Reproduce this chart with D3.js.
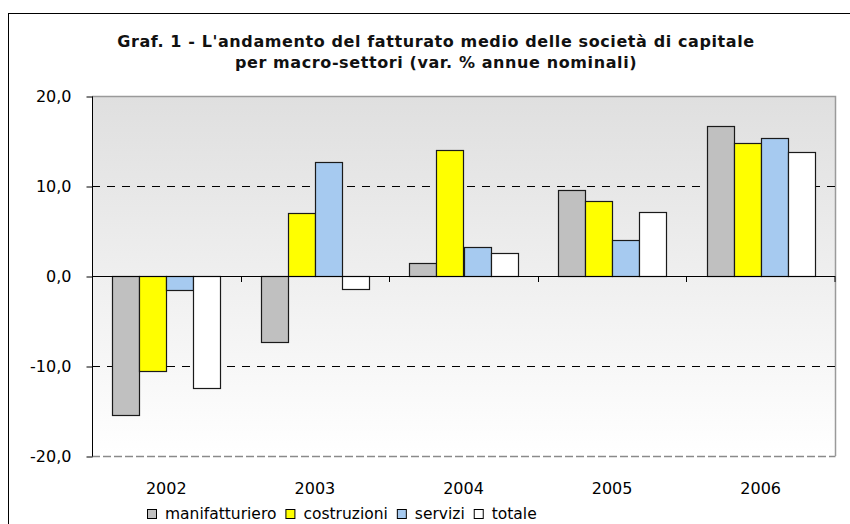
<!DOCTYPE html>
<html>
<head>
<meta charset="utf-8">
<script src="https://cdn.jsdelivr.net/npm/d3@7"></script>
<style>
  body { margin: 0; background: #fff; }
  svg { display: block; }
</style>
</head>
<body>
<div id="chart"></div>
<script>
// dati
var anni = ["2002", "2003", "2004", "2005", "2006"];
var settori = ["manifatturiero", "costruzioni", "servizi", "totale"];
var manifatturiero = [-15.4, -7.3, 1.5, 9.6, 16.7];
var costruzioni = [-10.5, 7.0, 14.0, 8.3, 14.8];
var servizi = [-1.5, 12.7, 3.2, 4.0, 15.3];
var totale = [-12.4, -1.4, 2.6, 7.1, 13.8];
var yTicks = [-20, -10, 0, 10, 20];
var colori = ["#c0c0c0", "#ffff00", "#a6caf0", "#ffffff"];

var width = 850, height = 524;
var left = 92, right = 835, top_ = 96, bottom = 456;
var fs = 16;

var serie = [manifatturiero, costruzioni, servizi, totale];
var rows = [];
anni.forEach(function(a, i) {
    settori.forEach(function(s, j) {
        rows.push({ anno: a, settore: s, value: serie[j][i] });
    });
});

var svg = d3.select("#chart").append("svg")
    .attr("width", width)
    .attr("height", height)
    .style("font-family", "'DejaVu Sans', Verdana, sans-serif");

// bordo esterno
svg.append("rect")
    .attr("x", 8.5).attr("y", 13.5)
    .attr("width", 860).attr("height", 530)
    .attr("fill", "#fff")
    .attr("stroke", "#000");

var defs = svg.append("defs");
var grad = defs.append("linearGradient")
    .attr("id", "bg").attr("x1", 0).attr("y1", 0).attr("x2", 0).attr("y2", 1);
grad.append("stop").attr("offset", "0%").attr("stop-color", "#dfdfdf");
grad.append("stop").attr("offset", "100%").attr("stop-color", "#ffffff");

var x0 = d3.scaleBand().domain(anni).range([left, right]).paddingInner(0).paddingOuter(0);
var x1 = d3.scaleBand().domain(settori).range([0, x0.bandwidth()]).paddingInner(0).paddingOuter(0.75);
var y = d3.scaleLinear().domain([-20, 20]).range([bottom, top_]);

// area del grafico
svg.append("rect")
    .attr("x", left).attr("y", top_)
    .attr("width", right - left).attr("height", bottom - top_)
    .attr("fill", "url(#bg)");

svg.append("path")
    .attr("d", "M" + left + "," + (top_ + 0.5) + "H" + (right + 0.5) + "V" + bottom)
    .attr("fill", "none")
    .attr("stroke", "#9a9a9a")
    .attr("stroke-width", 1.5);

svg.append("line")
    .attr("x1", left).attr("x2", right + 0.5)
    .attr("y1", y(-20) + 0.5).attr("y2", y(-20) + 0.5)
    .attr("stroke", "#8a8a8a")
    .attr("stroke-width", 1.5)
    .attr("stroke-dasharray", "8,3");

// griglia tratteggiata
svg.selectAll(".grid")
    .data([-10, 10])
    .enter().append("line")
    .attr("class", "grid")
    .attr("x1", left).attr("x2", right)
    .attr("y1", function(d) { return Math.round(y(d)) + 0.5; })
    .attr("y2", function(d) { return Math.round(y(d)) + 0.5; })
    .attr("stroke", "#000")
    .attr("stroke-dasharray", "8,7");

// barre
var y0px = Math.round(y(0));
svg.selectAll(".bar")
    .data(rows)
    .enter().append("rect")
    .attr("class", "bar")
    .attr("x", function(d) { return Math.round(x0(d.anno) + x1(d.settore)) + 0.5; })
    .attr("y", function(d) { return Math.min(Math.round(y(d.value)), y0px) + 0.5; })
    .attr("width", Math.round(x1.bandwidth()))
    .attr("height", function(d) { return Math.abs(Math.round(y(d.value)) - y0px); })
    .attr("fill", function(d) { return colori[settori.indexOf(d.settore)]; })
    .attr("stroke", "#1a1a1a")
    .attr("stroke-width", 1.2);

// asse y
var yAxis = d3.axisLeft(y)
    .tickValues(yTicks)
    .tickSize(6)
    .tickPadding(15)
    .tickFormat(function(d) { return d3.format(".1f")(d).replace(".", ",").replace("\u2212", "-"); });

var gy = svg.append("g")
    .attr("transform", "translate(" + (left + 0.5) + ",0.5)")
    .call(yAxis);
gy.select(".domain").attr("d", "M0," + top_ + "V" + bottom);
gy.selectAll("text").attr("font-size", fs).attr("font-family", "'DejaVu Sans', sans-serif").attr("fill", "#000");

// asse x sullo zero
var xAxis = d3.axisBottom(x0).tickSize(0).tickPadding(0);
var gx = svg.append("g")
    .attr("transform", "translate(0," + (y0px + 0.5) + ")")
    .call(xAxis);
gx.select(".domain").attr("d", "M" + left + ",0H" + right);
gx.selectAll("text").remove();

svg.selectAll(".catTick")
    .data(anni.slice(1).concat(["end"]))
    .enter().append("line")
    .attr("class", "catTick")
    .attr("x1", function(d) { return d === "end" ? right : Math.round(x0(d)) + 0.5; })
    .attr("x2", function(d) { return d === "end" ? right : Math.round(x0(d)) + 0.5; })
    .attr("y1", y0px)
    .attr("y2", y0px + 6)
    .attr("stroke", "#000");

// etichette anni
svg.selectAll(".anno")
    .data(anni)
    .enter().append("text")
    .attr("class", "anno")
    .attr("x", function(d) { return x0(d) + x0.bandwidth() / 2; })
    .attr("y", 494)
    .attr("text-anchor", "middle")
    .attr("font-size", fs)
    .text(function(d) { return d; });

// titolo
var titolo = svg.append("text")
    .attr("text-anchor", "middle")
    .attr("font-weight", "bold")
    .attr("font-size", 16)
    .attr("letter-spacing", 0.6)
    .attr("fill", "#111");
titolo.append("tspan").attr("x", 436).attr("y", 47)
    .text("Graf. 1 - L'andamento del fatturato medio delle società di capitale");
titolo.append("tspan").attr("x", 436).attr("y", 68)
    .text("per macro-settori (var. % annue nominali)");

// legenda
var lx = 147;
settori.forEach(function(s, i) {
    var g = svg.append("g").attr("transform", "translate(" + lx + ",0)");
    g.append("rect")
        .attr("x", 0.5).attr("y", 509.5)
        .attr("width", 9).attr("height", 9)
        .attr("fill", colori[i])
        .attr("stroke", "#000");
    var t = g.append("text")
        .attr("x", 18).attr("y", 519)
        .attr("font-size", 15.5)
        .text(s);
    lx += 18 + t.node().getComputedTextLength() + 9;
});
</script>
</body>
</html>
